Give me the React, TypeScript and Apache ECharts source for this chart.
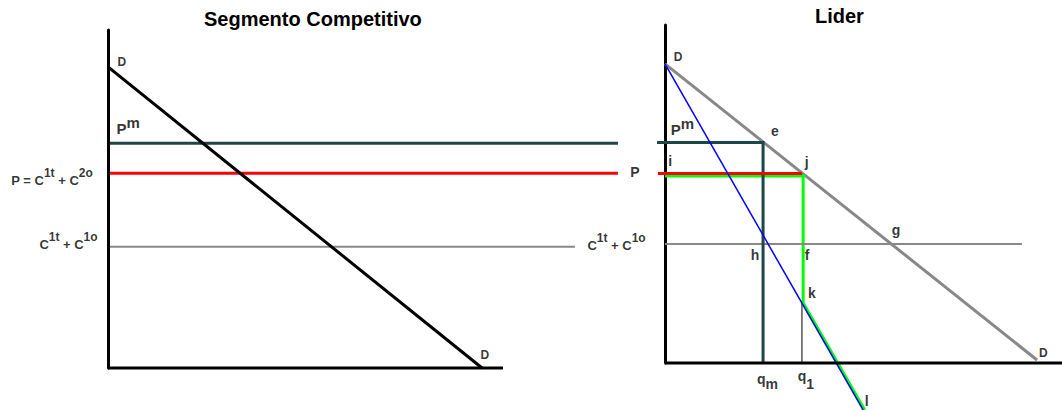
import React, { useEffect, useRef } from "react";
import * as echarts from "echarts";

// ---------- Titles ----------
const leftTitle = "Segmento Competitivo";
const rightTitle = "Lider";

// ---------- Left panel (Segmento Competitivo) ----------
const leftAxisX = [[0, 0], [100, 0]];
const leftDemand = [[0, 89.1], [94.7, 0]];
const leftPm = [[0.5, 66.5], [129.1, 66.5]];
const leftP = [[0.5, 57.6], [129.1, 57.6]];
const leftC1 = [[0.5, 35.9], [118.2, 35.9]];

// ---------- Right panel (Lider) ----------
const rightAxisX = [[0, 0], [100, 0]];
const rightDemand = [[0, 88.5], [93.7, 0.9]];
const rightMR = [[0, 88.5], [49.9, -13.9]];
const rightPm = [[-2.0, 65.2], [24.7, 65.2], [24.7, 0]];
const rightP = [[-1.8, 56.1], [34.5, 56.1]];
const rightC1 = [[0, 35.2], [89.9, 35.2]];
const rightSupply = [[0, 55.3], [34.8, 55.3], [34.8, 17.75], [50.3, -13.9]];
const rightQ1 = [[34.5, 17.75], [34.5, 0]];

// ---------- Annotation labels [x, y, text] in data units ----------
const leftLabels: [number, number, string][] = [
  [3.5, 90.5, "D"],
  [5.1, 71.7, "Pm"],
  [-14.2, 56.6, "P = C1t + C2o"],
  [-10.0, 37.6, "C1t + C1o"],
  [95.4, 3.8, "D"],
];
const rightLabels: [number, number, string][] = [
  [3.3, 90.5, "D"],
  [4.4, 70.0, "Pm"],
  [27.7, 68.6, "e"],
  [1.3, 59.8, "i"],
  [35.7, 59.6, "j"],
  [-7.6, 56.6, "P"],
  [-12.2, 35.9, "C1t + C1o"],
  [58.2, 39.4, "g"],
  [22.7, 31.9, "h"],
  [35.8, 31.9, "f"],
  [37.0, 20.8, "k"],
  [95.3, 3.0, "D"],
  [25.8, -5.4, "qm"],
  [35.5, -5.0, "q1"],
  [50.8, -11.2, "l"],
];

const FONT = "Liberation Sans, Arial, sans-serif";

function fmt(name: string): string {
  switch (name) {
    case "D":
      return "{d|D}";
    case "Pm":
      return "{pb|P}{ps|m}";
    case "P = C1t + C2o":
      return "{fb|P = C}{fs|1t}{fb| + C}{fs|2o}";
    case "C1t + C1o":
      return "{fb|C}{fs|1t}{fb| + C}{fs|1o}";
    case "qm":
      return "{qb|q}{qs|m}";
    case "q1":
      return "{qb|q}{qs2|1}";
    case "P":
      return "{p|P}";
    default:
      return `{t|${name}}`;
  }
}

const base = { fontWeight: "bold", color: "#000", fontFamily: FONT };
const rich: any = {
  d: { ...base, fontSize: 12 },
  t: { ...base, fontSize: 14 },
  p: { ...base, fontSize: 14 },
  pb: { ...base, fontSize: 15, lineHeight: 21, verticalAlign: "bottom" },
  ps: { ...base, fontSize: 15, lineHeight: 15, verticalAlign: "top" },
  fb: { ...base, fontSize: 13, lineHeight: 20, verticalAlign: "bottom" },
  fs: { ...base, fontSize: 12, lineHeight: 12, verticalAlign: "top" },
  qb: { ...base, fontSize: 14, lineHeight: 14, verticalAlign: "top" },
  qs: { ...base, fontSize: 14, lineHeight: 19, verticalAlign: "bottom" },
  qs2: { ...base, fontSize: 14, lineHeight: 22, verticalAlign: "bottom" },
};

function lineSeries(data: number[][], idx: number, color: string, width: number, z = 2) {
  return {
    type: "line",
    xAxisIndex: idx,
    yAxisIndex: idx,
    data,
    symbol: "none",
    clip: false,
    silent: true,
    z,
    lineStyle: { color, width, cap: "butt", join: "miter" },
  };
}

function labelSeries(labels: [number, number, string][], idx: number) {
  return {
    type: "scatter",
    xAxisIndex: idx,
    yAxisIndex: idx,
    clip: false,
    silent: true,
    symbolSize: 1,
    z: 10,
    itemStyle: { color: "rgba(0,0,0,0)" },
    data: labels.map(([x, y, n]) => ({ value: [x, y], name: n })),
    label: {
      show: true,
      position: "inside",
      formatter: (p: any) => fmt(p.name),
      rich,
    },
  };
}

const hidden = {
  axisTick: { show: false },
  axisLabel: { show: false },
  splitLine: { show: false },
};

export default function App() {
  const ref = useRef<HTMLDivElement>(null);
  useEffect(() => {
    document.body.style.margin = "0";
    if (!ref.current) return;
    const chart = echarts.init(ref.current, undefined, { renderer: "svg" });
    const titleStyle = { fontSize: 20, fontWeight: "bold", color: "#000", fontFamily: FONT };
    chart.setOption({
      animation: false,
      backgroundColor: "#fff",
      title: [
        { text: leftTitle, left: 204, top: 9, padding: 0, textStyle: titleStyle },
        { text: rightTitle, left: 815, top: 6, padding: 0, textStyle: titleStyle },
      ],
      grid: [
        { left: 108, top: 30, width: 513.5, height: 338 },
        { left: 645.15, top: 25, width: 416.85, height: 338 },
      ],
      xAxis: [
        { type: "value", gridIndex: 0, min: 0, max: 130, axisLine: { show: false }, ...hidden },
        { type: "value", gridIndex: 1, min: -5, max: 100, axisLine: { show: false }, ...hidden },
      ],
      yAxis: [
        {
          type: "value", gridIndex: 0, min: 0, max: 100,
          axisLine: { show: true, onZero: true, lineStyle: { color: "#000", width: 3 } },
          ...hidden,
        },
        {
          type: "value", gridIndex: 1, min: 0, max: 100,
          axisLine: { show: true, onZero: true, lineStyle: { color: "#000", width: 3 } },
          ...hidden,
        },
      ],
      series: [
        lineSeries(leftAxisX, 0, "#000000", 3, 5),
        lineSeries(leftC1, 0, "#888888", 2),
        lineSeries(leftPm, 0, "#1e4646", 3),
        lineSeries(leftP, 0, "#ff0000", 3),
        lineSeries(leftDemand, 0, "#000000", 3, 3),
        lineSeries(rightAxisX, 1, "#000000", 3, 5),
        lineSeries(rightDemand, 1, "#888888", 3),
        lineSeries(rightSupply, 1, "#00ff00", 3),
        lineSeries(rightC1, 1, "#888888", 2, 3),
        lineSeries(rightPm, 1, "#1e4646", 3, 3),
        lineSeries(rightP, 1, "#ff0000", 3, 3),
        lineSeries(rightMR, 1, "#0000ff", 1.5, 4),
        lineSeries(rightQ1, 1, "#000000", 1, 3),
        labelSeries(leftLabels, 0),
        labelSeries(rightLabels, 1),
      ],
    });
    return () => chart.dispose();
  }, []);
  return (
    <div
      ref={ref}
      style={{ position: "fixed", left: 0, top: 0, width: 1062, height: 410, background: "#fff" }}
    />
  );
}
